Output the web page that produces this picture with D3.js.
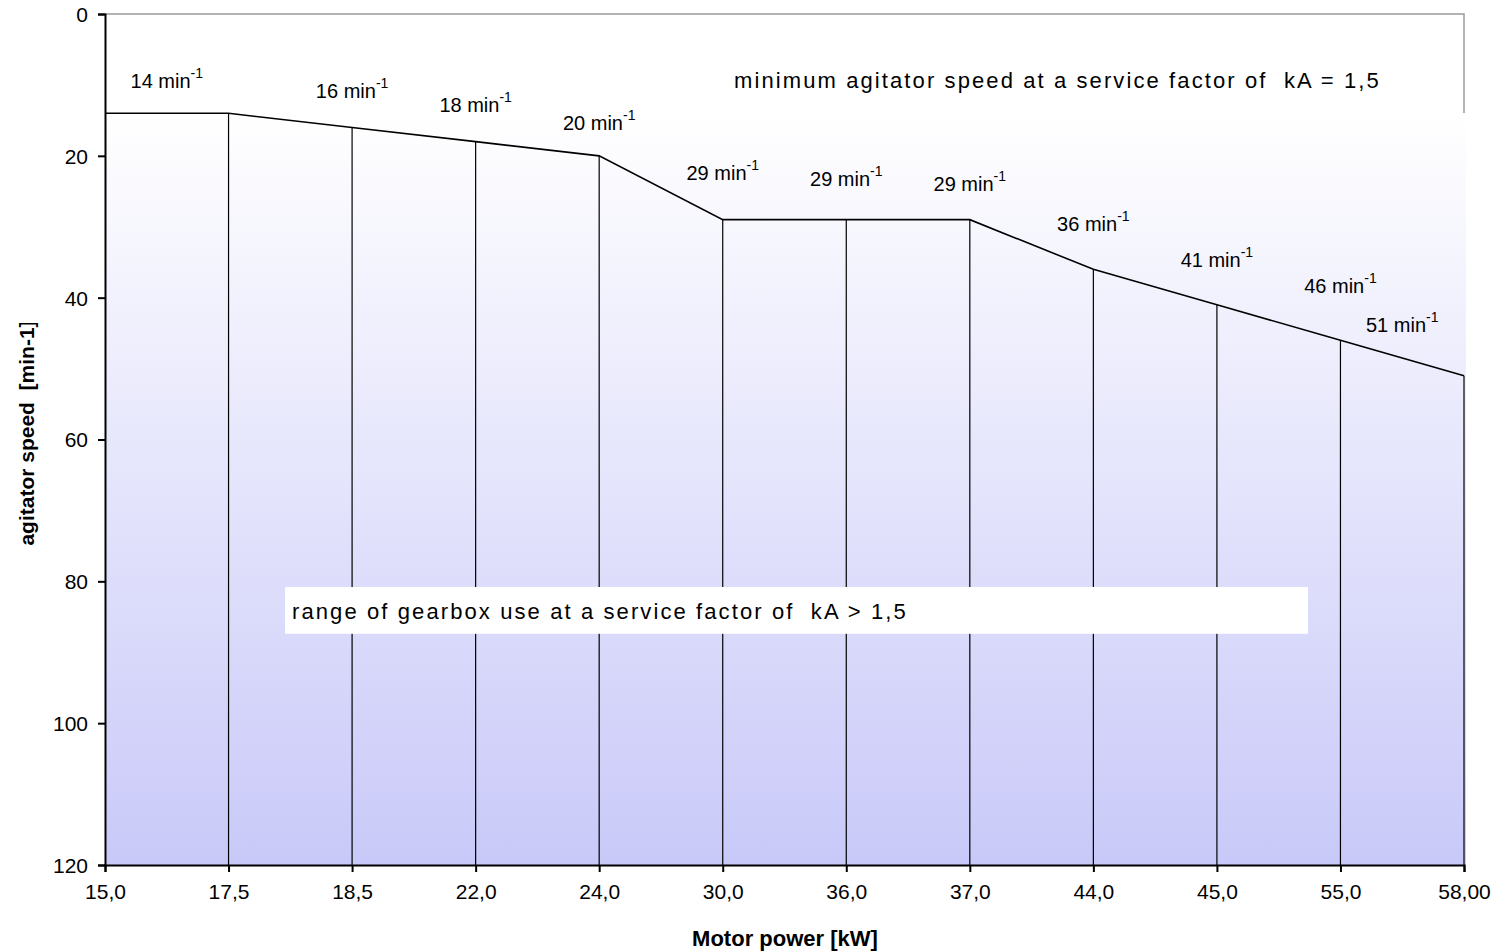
<!DOCTYPE html>
<html><head><meta charset="utf-8">
<script src="https://cdn.jsdelivr.net/npm/d3@7"></script>
<style>
html,body{margin:0;padding:0;background:#fff;}
text{font-family:"Liberation Sans",Arial,sans-serif;fill:#000;}
</style></head>
<body>
<svg id="chart" width="1503" height="952"></svg>
<script>
// ---- data ----
const categories = ["15,0","17,5","18,5","22,0","24,0","30,0","36,0","37,0","44,0","45,0","55,0","58,00"];
const speeds     = [14,14,16,18,20,29,29,29,36,41,46,51];
const yTicks     = [0,20,40,60,80,100,120];
const labelValues = [14,16,18,20,29,29,29,36,41,46,51];
// label anchor along x, in category-index units
const labelIndex  = [0.5,2,3,4,5,6,7,8,9,10,10.5];
// label baseline, in speed units
const labelSpeed  = [10.4,11.9,13.8,16.4,23.4,24.2,25.0,30.6,35.7,39.3,44.8];

(function(){
const svg = d3.select("#chart");
const mL = 105, mR = 1464, mT = 14, mB = 865;

const x = d3.scalePoint().domain(categories).range([mL, mR]);
const y = d3.scaleLinear().domain([0, 120]).range([mT, mB]);
const xi = i => mL + i * x.step();

const defs = svg.append("defs");
const grad = defs.append("linearGradient").attr("id","bg").attr("x1",0).attr("y1",0).attr("x2",0).attr("y2",1);
grad.append("stop").attr("offset","0%").attr("stop-color","#ffffff");
grad.append("stop").attr("offset","100%").attr("stop-color","#c9c9f9");

// top frame (gray)
svg.append("path")
  .attr("d", `M${mL},${mT}H${mR}V${y(speeds[0])}`)
  .attr("fill","none").attr("stroke","#9a9a9a").attr("stroke-width",1.5);

// gradient body
svg.append("rect")
  .attr("x", mL).attr("y", y(speeds[0]))
  .attr("width", mR - mL + 2).attr("height", y(120) - y(speeds[0]))
  .attr("fill","url(#bg)");

// vertical drop lines
svg.append("g").selectAll("line").data(categories.slice(1)).join("line")
  .attr("x1", d => x(d)).attr("x2", d => x(d))
  .attr("y1", (d,i) => y(speeds[i+1])).attr("y2", y(120))
  .attr("stroke","#000").attr("stroke-width",1.2);

// main line
svg.append("path").datum(speeds)
  .attr("d", d3.line().x((d,i) => x(categories[i])).y(d => y(d)))
  .attr("fill","none").attr("stroke","#000").attr("stroke-width",1.6);

// white box annotation
const boxG = svg.append("g");
boxG.append("rect").attr("x", 285).attr("y", y(80.8)).attr("width", 1023).attr("height", y(87.4)-y(80.8)).attr("fill","#fff");
boxG.append("text").attr("x", 292).attr("y", y(85.3))
  .style("font-size","22px").style("letter-spacing","2.1px").style("white-space","pre")
  .text("range of gearbox use at a service factor of  kA > 1,5");

svg.append("text").attr("x", 734).attr("y", y(10.4))
  .style("font-size","22px").style("letter-spacing","2.1px").style("white-space","pre")
  .text("minimum agitator speed at a service factor of  kA = 1,5");

// axes
const yAxis = svg.append("g").attr("transform",`translate(${mL},0)`)
  .call(d3.axisLeft(y).tickValues(yTicks).tickSize(7).tickPadding(10).tickFormat(d3.format("d")));
const xAxis = svg.append("g").attr("transform",`translate(0,${mB})`)
  .call(d3.axisBottom(x).tickSize(7).tickPadding(12));
[yAxis, xAxis].forEach(a => {
  a.select(".domain").attr("stroke","#000").attr("stroke-width",2);
  a.selectAll(".tick line").attr("stroke","#000").attr("stroke-width",2);
  a.selectAll(".tick text").style("font-family","'Liberation Sans',Arial,sans-serif").style("font-size","21px").attr("fill","#000");
});
yAxis.selectAll(".tick text").attr("dy","0.35em");

// value labels
const lab = svg.append("g").selectAll("text").data(labelValues).join("text")
  .attr("x", (d,i) => xi(labelIndex[i]))
  .attr("y", (d,i) => y(labelSpeed[i]))
  .attr("text-anchor","middle")
  .style("font-size","20px");
lab.append("tspan").text(d => d + " min");
lab.append("tspan").attr("dy", -10).style("font-size","14px").text("-1");

// axis titles
svg.append("text").attr("x", 785).attr("y", 946).attr("text-anchor","middle")
  .style("font-size","22px").style("font-weight","bold").text("Motor power [kW]");

defs.append("clipPath").attr("id","ytclip").append("rect").attr("x",0).attr("y",323).attr("width",60).attr("height",400);
svg.append("g").attr("clip-path","url(#ytclip)").append("text")
  .attr("transform","translate(34,433) rotate(-90)").attr("text-anchor","middle")
  .style("font-size","21px").style("font-weight","bold").style("white-space","pre")
  .text("agitator speed  [min-1]");
})();
</script>
</body></html>
